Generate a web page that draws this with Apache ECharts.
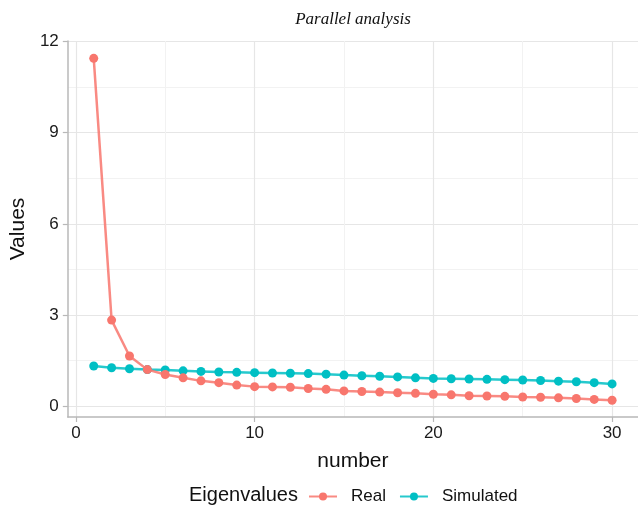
<!DOCTYPE html>
<html>
<head>
<meta charset="utf-8">
<script src="https://cdn.jsdelivr.net/npm/echarts@6/dist/echarts.min.js"></script>
<style>
  html, body { margin: 0; padding: 0; background: #fff; }
  #content { width: 638px; height: 507px; }
</style>
</head>
<body>
<div id="content"></div>
<script>
// component number 1..30
var numbers = [];
for (var i = 1; i <= 30; i++) numbers.push(i);

// eigenvalues
var realValues = [11.45, 2.83, 1.65, 1.20, 1.04, 0.93, 0.83, 0.77, 0.69, 0.64,
                  0.63, 0.62, 0.58, 0.55, 0.50, 0.48, 0.46, 0.44, 0.42, 0.39,
                  0.37, 0.34, 0.33, 0.32, 0.30, 0.29, 0.27, 0.25, 0.22, 0.19];
var simValues = [1.32, 1.26, 1.23, 1.20, 1.19, 1.16, 1.14, 1.12, 1.11, 1.10,
                 1.09, 1.08, 1.07, 1.05, 1.02, 1.00, 0.98, 0.96, 0.93, 0.91,
                 0.90, 0.89, 0.88, 0.87, 0.86, 0.84, 0.82, 0.80, 0.77, 0.73];

var xTicks = [0, 10, 20, 30];
var xMinor = [5, 15, 25];
var yTicks = [0, 3, 6, 9, 12];
var yMinor = [1.5, 4.5, 7.5, 10.5];

var red = '#F8766D';
var cyan = '#00BFC4';
var font = 'Liberation Sans, Arial, sans-serif';

function pairs(vals) {
    return vals.map(function (v, i) { return [numbers[i], v]; });
}

var myChart = echarts.init(document.getElementById('content'));

var xRange = { min: -0.45, max: 31.45 };
var yRange = { min: -0.36, max: 12.02 };

myChart.setOption({
    animation: false,
    title: {
        text: 'Parallel analysis',
        left: 348,
        textAlign: 'center',
        top: 6,
        textStyle: { fontFamily: 'Liberation Serif, Times New Roman, serif', fontStyle: 'italic', fontWeight: 'normal', fontSize: 17, color: '#111' }
    },
    grid: { left: 67, right: 0, top: 41, bottom: 90 },
    xAxis: [{
        type: 'value',
        min: xRange.min, max: xRange.max,
        name: 'number',
        nameLocation: 'middle',
        nameGap: 34,
        nameTextStyle: { fontFamily: font, fontSize: 21, color: '#111' },
        axisLine: { onZero: false, lineStyle: { color: '#b8b8b8', width: 1.5 } },
        axisTick: { show: true, length: 5, customValues: xTicks, lineStyle: { color: '#b8b8b8', width: 1.2 } },
        axisLabel: { customValues: xTicks, fontFamily: font, fontSize: 17, color: '#1a1a1a', margin: 8 },
        splitLine: { show: true, lineStyle: { color: '#e6e6e6', width: 1.2 } }
    }, {
        type: 'value',
        min: xRange.min, max: xRange.max,
        position: 'bottom',
        axisLine: { show: false },
        axisTick: { show: false, customValues: xMinor },
        axisLabel: { show: false, customValues: xMinor },
        splitLine: { show: true, lineStyle: { color: '#f2f2f2', width: 1 } }
    }],
    yAxis: [{
        type: 'value',
        min: yRange.min, max: yRange.max,
        name: 'Values',
        nameLocation: 'middle',
        nameGap: 34,
        nameTextStyle: { fontFamily: font, fontSize: 21, color: '#111' },
        axisLine: { show: true, onZero: false, lineStyle: { color: '#b8b8b8', width: 1.5 } },
        axisTick: { show: true, length: 5, customValues: yTicks, lineStyle: { color: '#b8b8b8', width: 1.2 } },
        axisLabel: { customValues: yTicks, fontFamily: font, fontSize: 17, color: '#1a1a1a', margin: 9 },
        splitLine: { show: true, lineStyle: { color: '#e6e6e6', width: 1.2 } }
    }, {
        type: 'value',
        min: yRange.min, max: yRange.max,
        position: 'left',
        axisLine: { show: false },
        axisTick: { show: false, customValues: yMinor },
        axisLabel: { show: false, customValues: yMinor },
        splitLine: { show: true, lineStyle: { color: '#f2f2f2', width: 1 } }
    }],
    graphic: [{
        type: 'text',
        x: 189,
        y: 495,
        style: { text: 'Eigenvalues', font: '20px ' + font, fill: '#111', verticalAlign: 'middle' }
    }],
    legend: {
        left: 303,
        top: 483,
        itemWidth: 28,
        itemHeight: 10,
        itemGap: 13,
        textStyle: { fontFamily: font, fontSize: 17, color: '#111', padding: [0, 0, 0, 9] },
        data: ['Real', 'Simulated']
    },
    series: [{
        name: 'Real',
        type: 'line',
        data: pairs(realValues),
        symbol: 'circle',
        symbolSize: 9,
        itemStyle: { color: red },
        lineStyle: { color: red, width: 2.5, opacity: 0.85 },
        z: 3
    }, {
        name: 'Simulated',
        type: 'line',
        data: pairs(simValues),
        symbol: 'circle',
        symbolSize: 9,
        itemStyle: { color: cyan },
        lineStyle: { color: cyan, width: 2.5, opacity: 0.85 },
        z: 2
    }]
});
</script>
</body>
</html>
